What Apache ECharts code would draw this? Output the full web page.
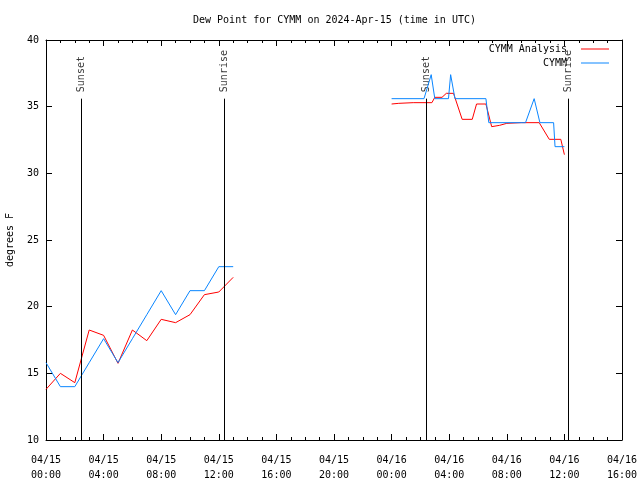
<!DOCTYPE html>
<html>
<head>
<meta charset="utf-8">
<script src="https://cdn.jsdelivr.net/npm/echarts@6/dist/echarts.min.js"></script>
<style>html,body{margin:0;padding:0;background:#fff}#c{width:640px;height:480px}</style>
</head>
<body>
<div id="c"></div>
<script>
// hours since 2024-04-15 00:00 UTC
const xTickLabels = ['04/15\n00:00','04/15\n04:00','04/15\n08:00','04/15\n12:00','04/15\n16:00','04/15\n20:00','04/16\n00:00','04/16\n04:00','04/16\n08:00','04/16\n12:00','04/16\n16:00'];

const analysisHoursA = [0,1,2,3,4,5,6,7,8,9,10,11,12,13];
const analysisValuesA = [13.8,15.0,14.3,18.25,17.85,15.75,18.25,17.45,19.05,18.8,19.4,20.9,21.1,22.2];
const analysisHoursB = [24,24.5,25.5,26.8,27.0,27.5,27.8,28.3,28.9,29.6,29.9,30.55,30.95,31.5,32.0,33.0,34.25,34.95,35.75,36.0];
const analysisValuesB = [35.2,35.25,35.3,35.3,35.7,35.7,36.0,36.0,34.05,34.05,35.2,35.2,33.5,33.6,33.75,33.8,33.8,32.55,32.55,31.4];

const obsHoursA = [0,1,2,3,4,5,6,7,8,9,10,11,12,13];
const obsValuesA = [15.8,14.0,14.0,15.8,17.6,15.8,17.6,19.4,21.2,19.4,21.2,21.2,23.0,23.0];
const obsHoursB = [24,26.25,26.75,27.0,27.95,28.1,28.4,30.55,30.75,33.3,33.9,34.3,35.25,35.35,36.0];
const obsValuesB = [35.6,35.6,37.4,35.6,35.6,37.4,35.6,35.6,33.8,33.8,35.6,33.8,33.8,32.0,32.0];

const sunHours = [2.43,12.36,26.41,36.27];
const sunLabels = ['Sunset','Sunrise','Sunset','Sunrise'];
const sunLineTop = 35.6;
const yMin = 10, yMax = 40;

const zip = (h, v) => h.map((x, i) => [x, v[i]]);
const FONT = '"DejaVu Sans Mono", "Liberation Mono", monospace';
const RED = '#ff0000', BLUE = '#0a86ff';

const lineBase = (name, color, data) => ({
  name, type: 'line', data, symbol: 'none', showSymbol: false,
  lineStyle: { color, width: 1 }, itemStyle: { color }, animation: false, z: 3
});

const chart = echarts.init(document.getElementById('c'), null, { renderer: 'canvas' });
const axisCommon = {
  axisLine: { show: true, onZero: false, lineStyle: { color: '#000', width: 1 } },
  splitLine: { show: false }
};
chart.setOption({
  backgroundColor: '#fff',
  animation: false,
  title: {
    text: 'Dew Point for CYMM on 2024-Apr-15 (time in UTC)',
    left: 193, top: 15, padding: 0,
    textStyle: { fontFamily: FONT, fontSize: 10, fontWeight: 'normal', color: '#000' }
  },
  legend: {
    data: ['CYMM Analysis', 'CYMM'],
    orient: 'vertical', right: 31, top: 44, align: 'right', padding: 0,
    icon: 'path://M0,0L28,0L28,1L0,1Z',
    itemWidth: 28, itemHeight: 10, itemGap: 4,
    textStyle: { fontFamily: FONT, fontSize: 10, color: '#000', padding: [0, 9, 0, 0] }
  },
  grid: { left: 46, right: 18, top: 40, bottom: 40, containLabel: false, outerBoundsMode: 'none' },
  xAxis: [
    Object.assign({
      type: 'value', min: 0, max: 40, interval: 4, position: 'bottom',
      axisTick: { show: true, inside: true, length: 6, lineStyle: { color: '#000' } },
      minorTick: { show: true, splitNumber: 4, length: 3, lineStyle: { color: '#000' } },
      axisLabel: {
        fontFamily: FONT, fontSize: 10, color: '#000', margin: 13, lineHeight: 15,
        showMinLabel: true, showMaxLabel: true,
        formatter: v => xTickLabels[Math.round(v / 4)] || ''
      }
    }, axisCommon),
    Object.assign({
      type: 'value', min: 0, max: 40, interval: 4, position: 'top',
      axisTick: { show: true, inside: true, length: 6, lineStyle: { color: '#000' } },
      minorTick: { show: true, splitNumber: 4, length: 3, lineStyle: { color: '#000' } },
      axisLabel: { show: false }
    }, axisCommon)
  ],
  yAxis: [
    Object.assign({
      type: 'value', min: yMin, max: yMax, interval: 5, position: 'left',
      name: 'degrees F', nameLocation: 'middle', nameGap: 31, nameRotate: 90,
      nameTextStyle: { fontFamily: FONT, fontSize: 10, color: '#000' },
      axisTick: { show: true, inside: true, length: 6, lineStyle: { color: '#000' } },
      axisLabel: { fontFamily: FONT, fontSize: 10, color: '#000', margin: 7 }
    }, axisCommon),
    Object.assign({
      type: 'value', min: yMin, max: yMax, interval: 5, position: 'right',
      axisTick: { show: true, inside: true, length: 6, lineStyle: { color: '#000' } },
      axisLabel: { show: false }
    }, axisCommon)
  ],
  series: [
    lineBase('CYMM Analysis', RED, zip(analysisHoursA, analysisValuesA)),
    lineBase('CYMM Analysis', RED, zip(analysisHoursB, analysisValuesB)),
    lineBase('CYMM', BLUE, zip(obsHoursA, obsValuesA)),
    lineBase('CYMM', BLUE, zip(obsHoursB, obsValuesB)),
    {
      name: 'sun', type: 'scatter', silent: true, z: 2,
      symbolSize: 1, itemStyle: { color: 'rgba(0,0,0,0)' },
      data: sunHours.map((h, i) => ({ value: [h, sunLineTop], label: { formatter: sunLabels[i] } })),
      label: {
        show: true, position: 'top', distance: 6, rotate: 90,
        align: 'left', verticalAlign: 'middle',
        fontFamily: FONT, fontSize: 10, color: '#000'
      },
      markLine: {
        silent: true, symbol: 'none', animation: false,
        lineStyle: { color: '#000', width: 1, type: 'solid' },
        label: { show: false },
        data: sunHours.map(h => [{ coord: [h, yMin] }, { coord: [h, sunLineTop] }])
      }
    }
  ]
});
</script>
</body>
</html>
